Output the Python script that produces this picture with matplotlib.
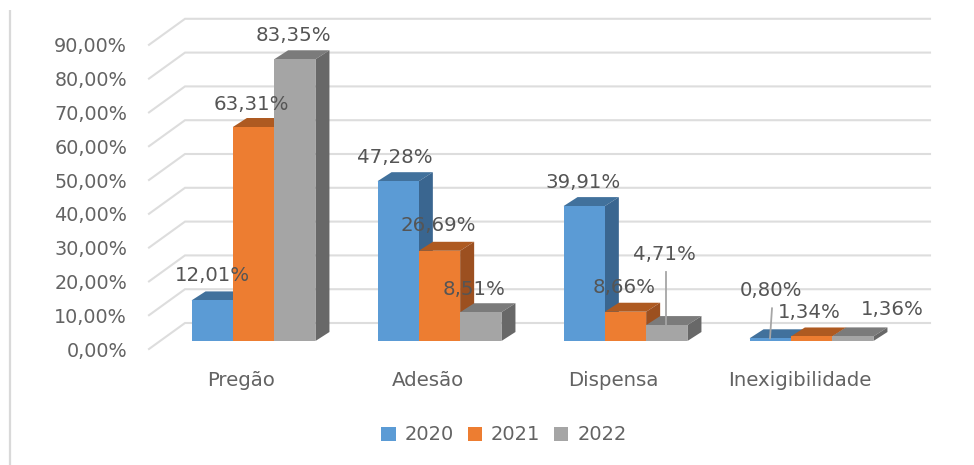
import matplotlib
matplotlib.use("Agg")
import matplotlib.pyplot as plt
from matplotlib.patches import Polygon

plt.rcParams["font.family"] = ["DejaVu Sans"]

categories = ["Pregão", "Adesão", "Dispensa", "Inexigibilidade"]
years = ["2020", "2021", "2022"]
v2020 = [12.01, 47.28, 39.91, 0.80]
v2021 = [63.31, 26.69, 8.66, 1.34]
v2022 = [83.35, 8.51, 4.71, 1.36]
yticks = [0, 10, 20, 30, 40, 50, 60, 70, 80, 90]

W, H = 974, 465
X0, Y0 = 253.5, 341     # pixel of first group centre / bar base
PX_X, PX_Y = 186, 3.38  # pixels per category, pixels per percent
BAR_W = 41.3 / PX_X
DX, DY = 14 / PX_X, 9 / PX_Y

front = ["#5B9BD5", "#ED7D31", "#A5A5A5"]
top = ["#41719C", "#AE5A21", "#7B7B7B"]
side = ["#3A6690", "#9C5020", "#686868"]
GRID = "#DDDDDD"

# label offsets in pixels from the top centre of each bar, per series
label_off = [
    [(0, 25), (-3, 24), (-1, 24), (1, 48)],
    [(-2, 23), (-1, 25), (-1, 24), (-2, 24)],
    [(-1, 24), (-7, 23), (-2, 71), (40, 27)],
]


def pct(v):
    return f"{v:.2f}%".replace(".", ",")


fig = plt.figure(figsize=(W / 100, H / 100), dpi=100)
ax = fig.add_axes([0, 0, 1, 1])
ax.set_xlim(-X0 / PX_X, (W - X0) / PX_X)
ax.set_ylim((Y0 - H) / PX_Y, Y0 / PX_Y)
ax.axis("off")

# left border of the pasted picture
ax.plot([(10 - X0) / PX_X] * 2, [(Y0 - H) / PX_Y, (Y0 - 10) / PX_Y],
        color="#D9D9D9", lw=1.6, solid_capstyle="butt")

# floor/wall grid lines
x_a, x_b, x_c = (149 - X0) / PX_X, (185 - X0) / PX_X, (930 - X0) / PX_X
for v in yticks:
    ax.plot([x_a, x_b, x_c],
            [v - 8 / PX_Y, v + 18 / PX_Y, v + 18 / PX_Y],
            color=GRID, lw=1.5, zorder=1, solid_joinstyle="miter")
    ax.text((127 - X0) / PX_X, v - 10 / PX_Y, pct(v), ha="right", va="center",
            fontsize=13.8, color="#636363")

# bars
xs = list(range(len(categories)))
handles = []
for i, vals in enumerate([v2020, v2021, v2022]):
    off = (i - 1) * BAR_W
    for x, v in zip(xs, vals):
        l, r = x + off - BAR_W / 2, x + off + BAR_W / 2
        ax.add_patch(Polygon([(l, v), (r, v), (r + DX, v + DY), (l + DX, v + DY)],
                             fc=top[i], lw=0, zorder=2 + i))
        ax.add_patch(Polygon([(r, 0), (r, v), (r + DX, v + DY), (r + DX, DY)],
                             fc=side[i], lw=0, zorder=2 + i))
    b = ax.bar([x + off for x in xs], vals, BAR_W, color=front[i], lw=0,
               zorder=2 + i, label=years[i])
    handles.append(b)

# leader lines for the two displaced labels
ax.plot([(666 - X0) / PX_X] * 2, [v2022[2], v2022[2] + 53 / PX_Y],
        color="#A6A6A6", lw=1.3, zorder=6)
ax.plot([(770 - X0) / PX_X, (772 - X0) / PX_X], [v2020[3], v2020[3] + 30 / PX_Y],
        color="#A6A6A6", lw=1.3, zorder=6)

# data labels
for i, vals in enumerate([v2020, v2021, v2022]):
    for x, v, (ox, oy) in zip(xs, vals, label_off[i]):
        ax.annotate(pct(v), (x + (i - 1) * BAR_W, v), xytext=(ox, oy),
                    textcoords="offset pixels", ha="center", va="center",
                    fontsize=14.2, color="#555555", zorder=7)

# category labels
for x, name in zip(xs, categories):
    ax.text(x - 12 / PX_X, (Y0 - 380) / PX_Y, name, ha="center", va="center",
            fontsize=14.2, color="#636363")

ax.legend(handles=handles, loc="center", ncol=3, frameon=False,
          bbox_to_anchor=(504 / W, 1 - 435 / H), fontsize=14,
          labelcolor="#636363", handlelength=0.75, handleheight=0.75,
          handletextpad=0.45, columnspacing=0.7)

fig.savefig("out.png", dpi=100)
